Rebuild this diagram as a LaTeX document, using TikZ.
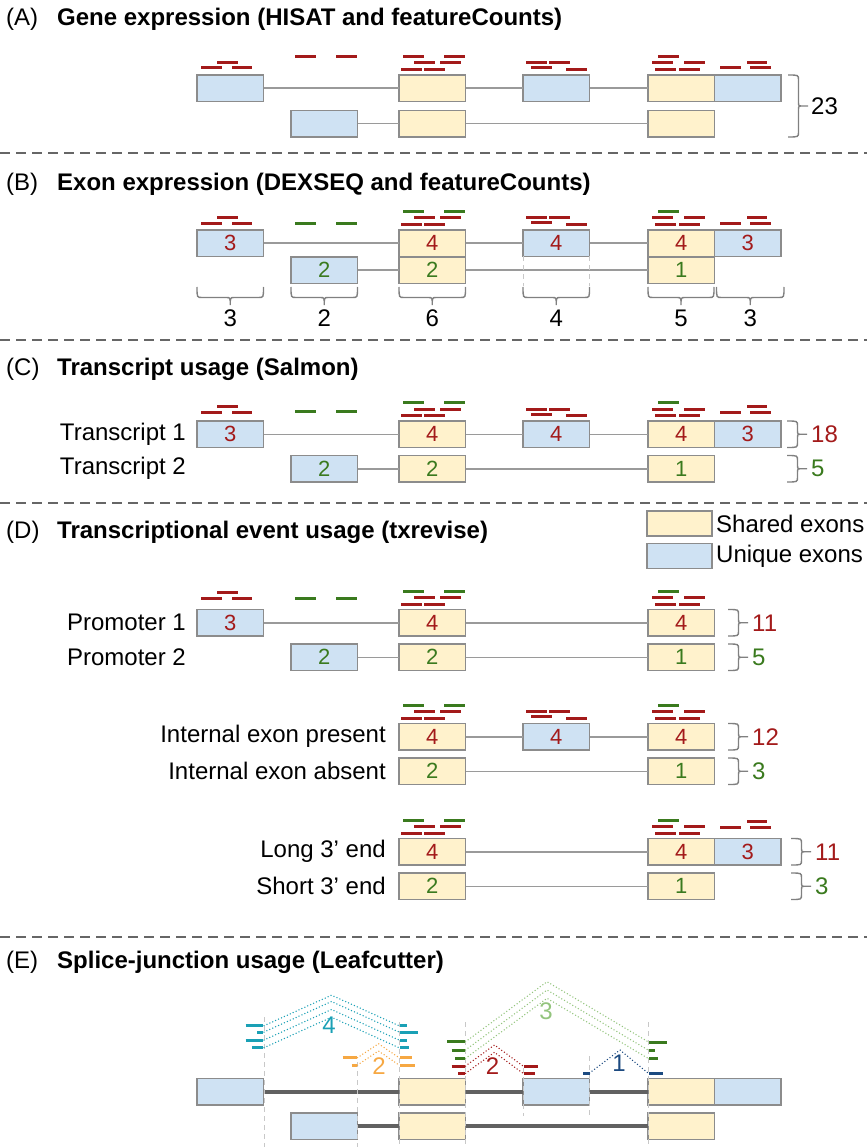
\documentclass[tikz,border=0pt]{standalone}
\usepackage{fontspec}
\setmainfont{Liberation Sans}
\usetikzlibrary{calc}

\definecolor{ublue}{HTML}{CFE2F3}
\definecolor{syellow}{HTML}{FFF2CC}
\definecolor{edgegray}{HTML}{8C8C8C}
\definecolor{introngray}{HTML}{9A9A9A}
\definecolor{rred}{HTML}{A31A1A}
\definecolor{rgreen}{HTML}{3A7A1E}
\definecolor{jteal}{HTML}{1AA0B5}
\definecolor{jorange}{HTML}{F6A843}
\definecolor{jlgreen}{HTML}{93C47D}
\definecolor{jblue}{HTML}{1C4A80}
\definecolor{sepgray}{HTML}{666666}
\definecolor{guidegray}{HTML}{C8C8C8}
\definecolor{bracegray}{HTML}{808080}

\newcommand\bigfont{\fontsize{24}{28}\selectfont}
\newcommand\numfont{\fontsize{22}{24}\selectfont}

% read sets above each exon, relative to the top of the first row
\newcommand\rdEone[2]{\draw[rd=#1] (201,#2)--(222,#2) (232,#2)--(252,#2) (217,#2-5.5)--(238,#2-5.5);}
\newcommand\rdMid[2]{\draw[rd=#1] (295,#2)--(316,#2) (336,#2)--(357,#2);}
\newcommand\rdEthree[1]{\draw[rd=#1] (403,-18.5)--(424,-18.5) (444,-18.5)--(465,-18.5);
  \draw[rd=rred] (414,-12)--(435,-12) (440,-12)--(461,-12) (401,-5.5)--(422,-5.5) (424,-5.5)--(445,-5.5);}
\newcommand\rdEfour{\draw[rd=rred] (526,-12)--(547,-12) (549,-12)--(570,-12) (531,-7)--(552,-7) (566,-5.5)--(587,-5.5);}
\newcommand\rdEfive[1]{\draw[rd=#1] (658,-18.5)--(679,-18.5);
  \draw[rd=rred] (652,-12)--(673,-12) (684,-12)--(705,-12) (655,-5.5)--(676,-5.5) (679,-5.5)--(700,-5.5);}
\newcommand\rdEsix[1]{\draw[rd=rred] (720,#1)--(741,#1) (750,#1)--(771,#1) (747,#1-5.5)--(767,#1-5.5);}

% curly braces: horizontal (tip down) and vertical (tip right)
\newcommand\hbrace[3]{%
  \pgfmathsetmacro\bxm{(#1+#2)/2}%
  \draw[brc] (#1,#3) .. controls (#1,#3+10.5) .. (#1+5,#3+10.5) -- (\bxm-4,#3+10.5)
    .. controls (\bxm,#3+10.5) .. (\bxm,#3+18) .. controls (\bxm,#3+10.5) .. (\bxm+4,#3+10.5)
    -- (#2-5,#3+10.5) .. controls (#2,#3+10.5) .. (#2,#3);}
\newcommand\vbrace[3]{%
  \pgfmathsetmacro\bym{(#2+#3)/2}%
  \draw[brc] (#1,#2) .. controls (#1+10.5,#2) .. (#1+10.5,#2+5) -- (#1+10.5,\bym-4)
    .. controls (#1+10.5,\bym) .. (#1+14.5,\bym) -- (#1+20,\bym) -- (#1+14.5,\bym)
    .. controls (#1+10.5,\bym) .. (#1+10.5,\bym+4) -- (#1+10.5,#3-5)
    .. controls (#1+10.5,#3) .. (#1,#3);}

\tikzset{
  exon/.style={draw=edgegray, line width=1.6pt, minimum width=66.5pt, minimum height=26.5pt,
    inner sep=0pt, outer sep=0pt, anchor=north west, font=\numfont},
  shared/.style={exon, fill=syellow},
  uniq/.style={exon, fill=ublue},
  intron/.style={draw=introngray, line width=1.5pt},
  thickintron/.style={draw=black!62, line width=3.6pt},
  rd/.style={draw=#1, line width=3pt},
  jdot/.style={draw=#1, line width=1.5pt, line cap=round, dash pattern=on 0pt off 3.2pt},
  sep/.style={draw=sepgray, line width=1.8pt, dash pattern=on 10pt off 6pt},
  guide/.style={draw=guidegray, line width=1pt, dash pattern=on 5pt off 4pt},
  brc/.style={draw=bracegray, line width=1.4pt},
  hdr/.style={anchor=base west, inner sep=0pt, font=\bigfont},
  ttl/.style={anchor=base west, inner sep=0pt, font=\bigfont\bfseries},
  lbl/.style={anchor=east, inner sep=0pt, font=\bigfont},
  cnt/.style={anchor=west, inner sep=0pt, font=\bigfont},
  jlab/.style={inner sep=0pt, font=\bigfont},
}

\begin{document}
\begin{tikzpicture}[x=1pt,y=-1pt]
\useasboundingbox (0,0) rectangle (867,1147);

% panel separators
\foreach \sy in {153,340,503,937} \draw[sep] (0,\sy) -- (867,\sy);

% ---------------- (A) gene expression ----------------
\node[hdr] (hA) at (6,26) {(A)};
\node[ttl] (tA) at (57,26) {Gene expression (HISAT and featureCounts)};
\node[uniq]   (a1)  at (197,75) {};
\node[shared] (a3)  at (399,75) {};
\node[uniq]   (a4)  at (523,75) {};
\node[shared] (a5)  at (648,75) {};
\node[uniq]   (a6)  at (714.5,75) {};
\node[uniq]   (a2)  at (291,110.5) {};
\node[shared] (a3b) at (399,110.5) {};
\node[shared] (a5b) at (648,110.5) {};
\draw[intron] (a1.east) -- (a3.west) (a3.east) -- (a4.west) (a4.east) -- (a5.west);
\draw[intron] (a2.east) -- (a3b.west) (a3b.east) -- (a5b.west);
\begin{scope}[shift={(0,75)}]
  \rdEone{rred}{-7} \rdMid{rred}{-18.3} \rdEthree{rred} \rdEfour \rdEfive{rred} \rdEsix{-7}
\end{scope}
\vbrace{788}{75}{137}
\node[cnt] (nA) at (811,106) {23};

% ---------------- (B) exon expression ----------------
\node[hdr] (hB) at (6,191) {(B)};
\node[ttl] (tB) at (57,191) {Exon expression (DEXSEQ and featureCounts)};
\node[uniq,text=rred]     (b1)  at (197,230) {3};
\node[shared,text=rred]   (b3)  at (399,230) {4};
\node[uniq,text=rred]     (b4)  at (523,230) {4};
\node[shared,text=rred]   (b5)  at (648,230) {4};
\node[uniq,text=rred]     (b6)  at (714.5,230) {3};
\node[uniq,text=rgreen]   (b2)  at (291,257) {2};
\node[shared,text=rgreen] (b3b) at (399,257) {2};
\node[shared,text=rgreen] (b5b) at (648,257) {1};
\draw[intron] (b1.east) -- (b3.west) (b3.east) -- (b4.west) (b4.east) -- (b5.west);
\draw[intron] (b2.east) -- (b3b.west) (b3b.east) -- (b5b.west);
\begin{scope}[shift={(0,230)}]
  \rdEone{rred}{-6.5} \rdMid{rgreen}{-6.8} \rdEthree{rgreen} \rdEfour \rdEfive{rgreen} \rdEsix{-6.5}
\end{scope}
\draw[guide] (b4.south west) -- ++(0,30) (b4.south east) -- ++(0,30);
\hbrace{197}{263.5}{287} \node[jlab] (bc1) at (230.25,318) {3};
\hbrace{291}{357.5}{287} \node[jlab] (bc2) at (324.25,318) {2};
\hbrace{399}{465.5}{287} \node[jlab] (bc3) at (432.25,318) {6};
\hbrace{523}{589.5}{287} \node[jlab] (bc4) at (556.25,318) {4};
\hbrace{648}{714}{287}   \node[jlab] (bc5) at (681,318) {5};
\hbrace{716.5}{784}{287} \node[jlab] (bc6) at (750.25,318) {3};

% ---------------- (C) transcript usage ----------------
\node[hdr] (hC) at (6,375) {(C)};
\node[ttl] (tC) at (57,375) {Transcript usage (Salmon)};
\node[lbl] (lc1) at (186,434) {Transcript 1};
\node[lbl] (lc2) at (186,468.75) {Transcript 2};
\node[uniq,text=rred]     (c1)  at (197,421) {3};
\node[shared,text=rred]   (c3)  at (399,421) {4};
\node[uniq,text=rred]     (c4)  at (523,421) {4};
\node[shared,text=rred]   (c5)  at (648,421) {4};
\node[uniq,text=rred]     (c6)  at (714.5,421) {3};
\node[uniq,text=rgreen]   (c2)  at (291,455.5) {2};
\node[shared,text=rgreen] (c3b) at (399,455.5) {2};
\node[shared,text=rgreen] (c5b) at (648,455.5) {1};
\draw[intron] (c1.east) -- (c3.west) (c3.east) -- (c4.west) (c4.east) -- (c5.west);
\draw[intron] (c2.east) -- (c3b.west) (c3b.east) -- (c5b.west);
\begin{scope}[shift={(0,421)}]
  \rdEone{rred}{-9} \rdMid{rgreen}{-9.5} \rdEthree{rgreen} \rdEfour \rdEfive{rgreen} \rdEsix{-9}
\end{scope}
\vbrace{787}{421}{447.5}   \node[cnt,text=rred]   (nc1) at (811,434) {18};
\vbrace{787}{455.5}{482}   \node[cnt,text=rgreen] (nc2) at (811,468.75) {5};

% ---------------- (D) transcriptional event usage ----------------
\node[hdr] (hD) at (6,538) {(D)};
\node[ttl] (tD) at (57,538) {Transcriptional event usage (txrevise)};
\node[shared, minimum width=65pt, minimum height=25pt] (legS) at (647,511) {};
\node[uniq,   minimum width=65pt, minimum height=25pt] (legU) at (647,543.5) {};
\node[cnt] (legSt) at ([xshift=4pt]legS.east) {Shared exons};
\node[cnt] (legUt) at ([xshift=4pt]legU.east) {Unique exons};

% promoter events
\node[lbl] (lp1) at (186,622.75) {Promoter 1};
\node[lbl] (lp2) at (186,657.25) {Promoter 2};
\node[uniq,text=rred]     (p1)  at (197,609.5) {3};
\node[shared,text=rred]   (p3)  at (399,609.5) {4};
\node[shared,text=rred]   (p5)  at (648,609.5) {4};
\node[uniq,text=rgreen]   (p2)  at (291,644) {2};
\node[shared,text=rgreen] (p3b) at (399,644) {2};
\node[shared,text=rgreen] (p5b) at (648,644) {1};
\draw[intron] (p1.east) -- (p3.west) (p3.east) -- (p5.west);
\draw[intron] (p2.east) -- (p3b.west) (p3b.east) -- (p5b.west);
\begin{scope}[shift={(0,609.5)}]
  \rdEone{rred}{-11.5} \rdMid{rgreen}{-11.5} \rdEthree{rgreen} \rdEfive{rgreen}
\end{scope}
\vbrace{728}{609.5}{636}  \node[cnt,text=rred]   (np1) at (752,622.75) {11};
\vbrace{728}{644}{670.5}  \node[cnt,text=rgreen] (np2) at (752,657.25) {5};

% internal exon events
\node[lbl] (li1) at (386,736.75) {Internal exon present};
\node[lbl] (li2) at (386,771.25) {Internal exon absent};
\node[shared,text=rred]   (i3)  at (399,723.5) {4};
\node[uniq,text=rred]     (i4)  at (523,723.5) {4};
\node[shared,text=rred]   (i5)  at (648,723.5) {4};
\node[shared,text=rgreen] (i3b) at (399,758) {2};
\node[shared,text=rgreen] (i5b) at (648,758) {1};
\draw[intron] (i3.east) -- (i4.west) (i4.east) -- (i5.west);
\draw[intron] (i3b.east) -- (i5b.west);
\begin{scope}[shift={(0,723.5)}]
  \rdEthree{rgreen} \rdEfour \rdEfive{rgreen}
\end{scope}
\vbrace{728}{723.5}{750}  \node[cnt,text=rred]   (ni1) at (752,736.75) {12};
\vbrace{728}{758}{784.5}  \node[cnt,text=rgreen] (ni2) at (752,771.25) {3};

% 3' end events
\node[lbl] (lt1) at (386,851.75) {Long 3’ end};
\node[lbl] (lt2) at (386,886.25) {Short 3’ end};
\node[shared,text=rred]   (t3)  at (399,838.5) {4};
\node[shared,text=rred]   (t5)  at (648,838.5) {4};
\node[uniq,text=rred]     (t6)  at (714.5,838.5) {3};
\node[shared,text=rgreen] (t3b) at (399,873) {2};
\node[shared,text=rgreen] (t5b) at (648,873) {1};
\draw[intron] (t3.east) -- (t5.west);
\draw[intron] (t3b.east) -- (t5b.west);
\begin{scope}[shift={(0,838.5)}]
  \rdEthree{rgreen} \rdEfive{rgreen} \rdEsix{-11.5}
\end{scope}
\vbrace{791}{838.5}{865}  \node[cnt,text=rred]   (nt1) at (815,851.75) {11};
\vbrace{791}{873}{899.5}  \node[cnt,text=rgreen] (nt2) at (815,886.25) {3};

% ---------------- (E) splice-junction usage ----------------
\node[hdr] (hE) at (6,968) {(E)};
\node[ttl] (tE) at (57,968) {Splice-junction usage (Leafcutter)};
\node[uniq]   (s1)  at (197,1078.5) {};
\node[shared] (s3)  at (399,1078.5) {};
\node[uniq]   (s4)  at (523,1078.5) {};
\node[shared] (s5)  at (648,1078.5) {};
\node[uniq]   (s6)  at (714.5,1078.5) {};
\node[uniq]   (s2)  at (291,1113) {};
\node[shared] (s3b) at (399,1113) {};
\node[shared] (s5b) at (648,1113) {};
\draw[thickintron] (s1.east) -- (s3.west) (s3.east) -- (s4.west) (s4.east) -- (s5.west);
\draw[thickintron] (s2.east) -- (s3b.west) (s3b.east) -- (s5b.west);

% junction boundaries
\draw[guide] (264,1017) -- (264,1147);
\draw[guide] (357.5,1062) -- (357.5,1147);
\draw[guide] (399,1022) -- (399,1147);
\draw[guide] (465.5,1022) -- (465.5,1147);
\draw[guide] (523,1068) -- (523,1116);
\draw[guide] (589.5,1056) -- (589.5,1116);
\draw[guide] (648,1022) -- (648,1147);

% junction 4 (exon 1 -> shared exon)
\foreach \jy in {1025.7,1032,1040,1047.7}
  \draw[jdot=jteal] (264,\jy) -- (331.5,\jy-30.5) -- (399,\jy);
\draw[rd=jteal] (245.7,1025.7)--(263.3,1025.7) (257,1032)--(263.3,1032) (245.7,1040)--(263.3,1040) (252,1047.7)--(263.3,1047.7);
\draw[rd=jteal] (400,1025.7)--(407,1025.7) (400,1032)--(418,1032) (400,1040)--(407,1040) (400,1047.7)--(409,1047.7);
\node[jlab,text=jteal] (j4) at (329,1025) {4};

% junction 2 (exon 2 -> shared exon)
\foreach \jy in {1057.7,1065}
  \draw[jdot=jorange] (357.5,\jy) -- (378.5,\jy-14) -- (399,\jy);
\draw[rd=jorange] (342.7,1057.7)--(357.2,1057.7) (351.7,1065)--(357.2,1065);
\draw[rd=jorange] (400,1057.7)--(412,1057.7) (400,1065)--(415,1065);
\node[jlab,text=jorange] (j2a) at (379,1066.5) {2};

% junction 2 (shared exon -> internal exon)
\foreach \jy in {1066,1073.3}
  \draw[jdot=rred] (465.5,\jy) -- (494.5,\jy-21) -- (523,\jy);
\draw[rd=rred] (451.7,1066)--(465,1066) (458.3,1073.3)--(465,1073.3);
\draw[rd=rred] (523.5,1066)--(538.3,1066) (523.5,1073.3)--(535,1073.3);
\node[jlab,text=rred] (j2b) at (492.5,1066.5) {2};

% junction 3 (skipping the internal exon)
\foreach \jy in {1041.7,1050,1058.3}
  \draw[jdot=jlgreen] (465.5,\jy) -- (547,\jy-60) -- (648,\jy);
\draw[rd=rgreen] (447,1041.7)--(465,1041.7) (451.7,1050)--(465,1050) (455,1058.3)--(465,1058.3);
\draw[rd=rgreen] (649,1042)--(667,1042) (649,1050.3)--(655,1050.3) (649,1058.3)--(658,1058.3);
\node[jlab,text=jlgreen] (j3) at (546,1011) {3};

% junction 1 (internal exon -> last shared exon)
\draw[jdot=jblue] (589.5,1073) -- (620,1050) -- (648,1073);
\draw[rd=jblue] (583.3,1073.3)--(589.5,1073.3);
\draw[rd=jblue] (649,1073)--(663,1073);
\node[jlab,text=jblue] (j1) at (619,1063) {1};
\end{tikzpicture}
\end{document}
